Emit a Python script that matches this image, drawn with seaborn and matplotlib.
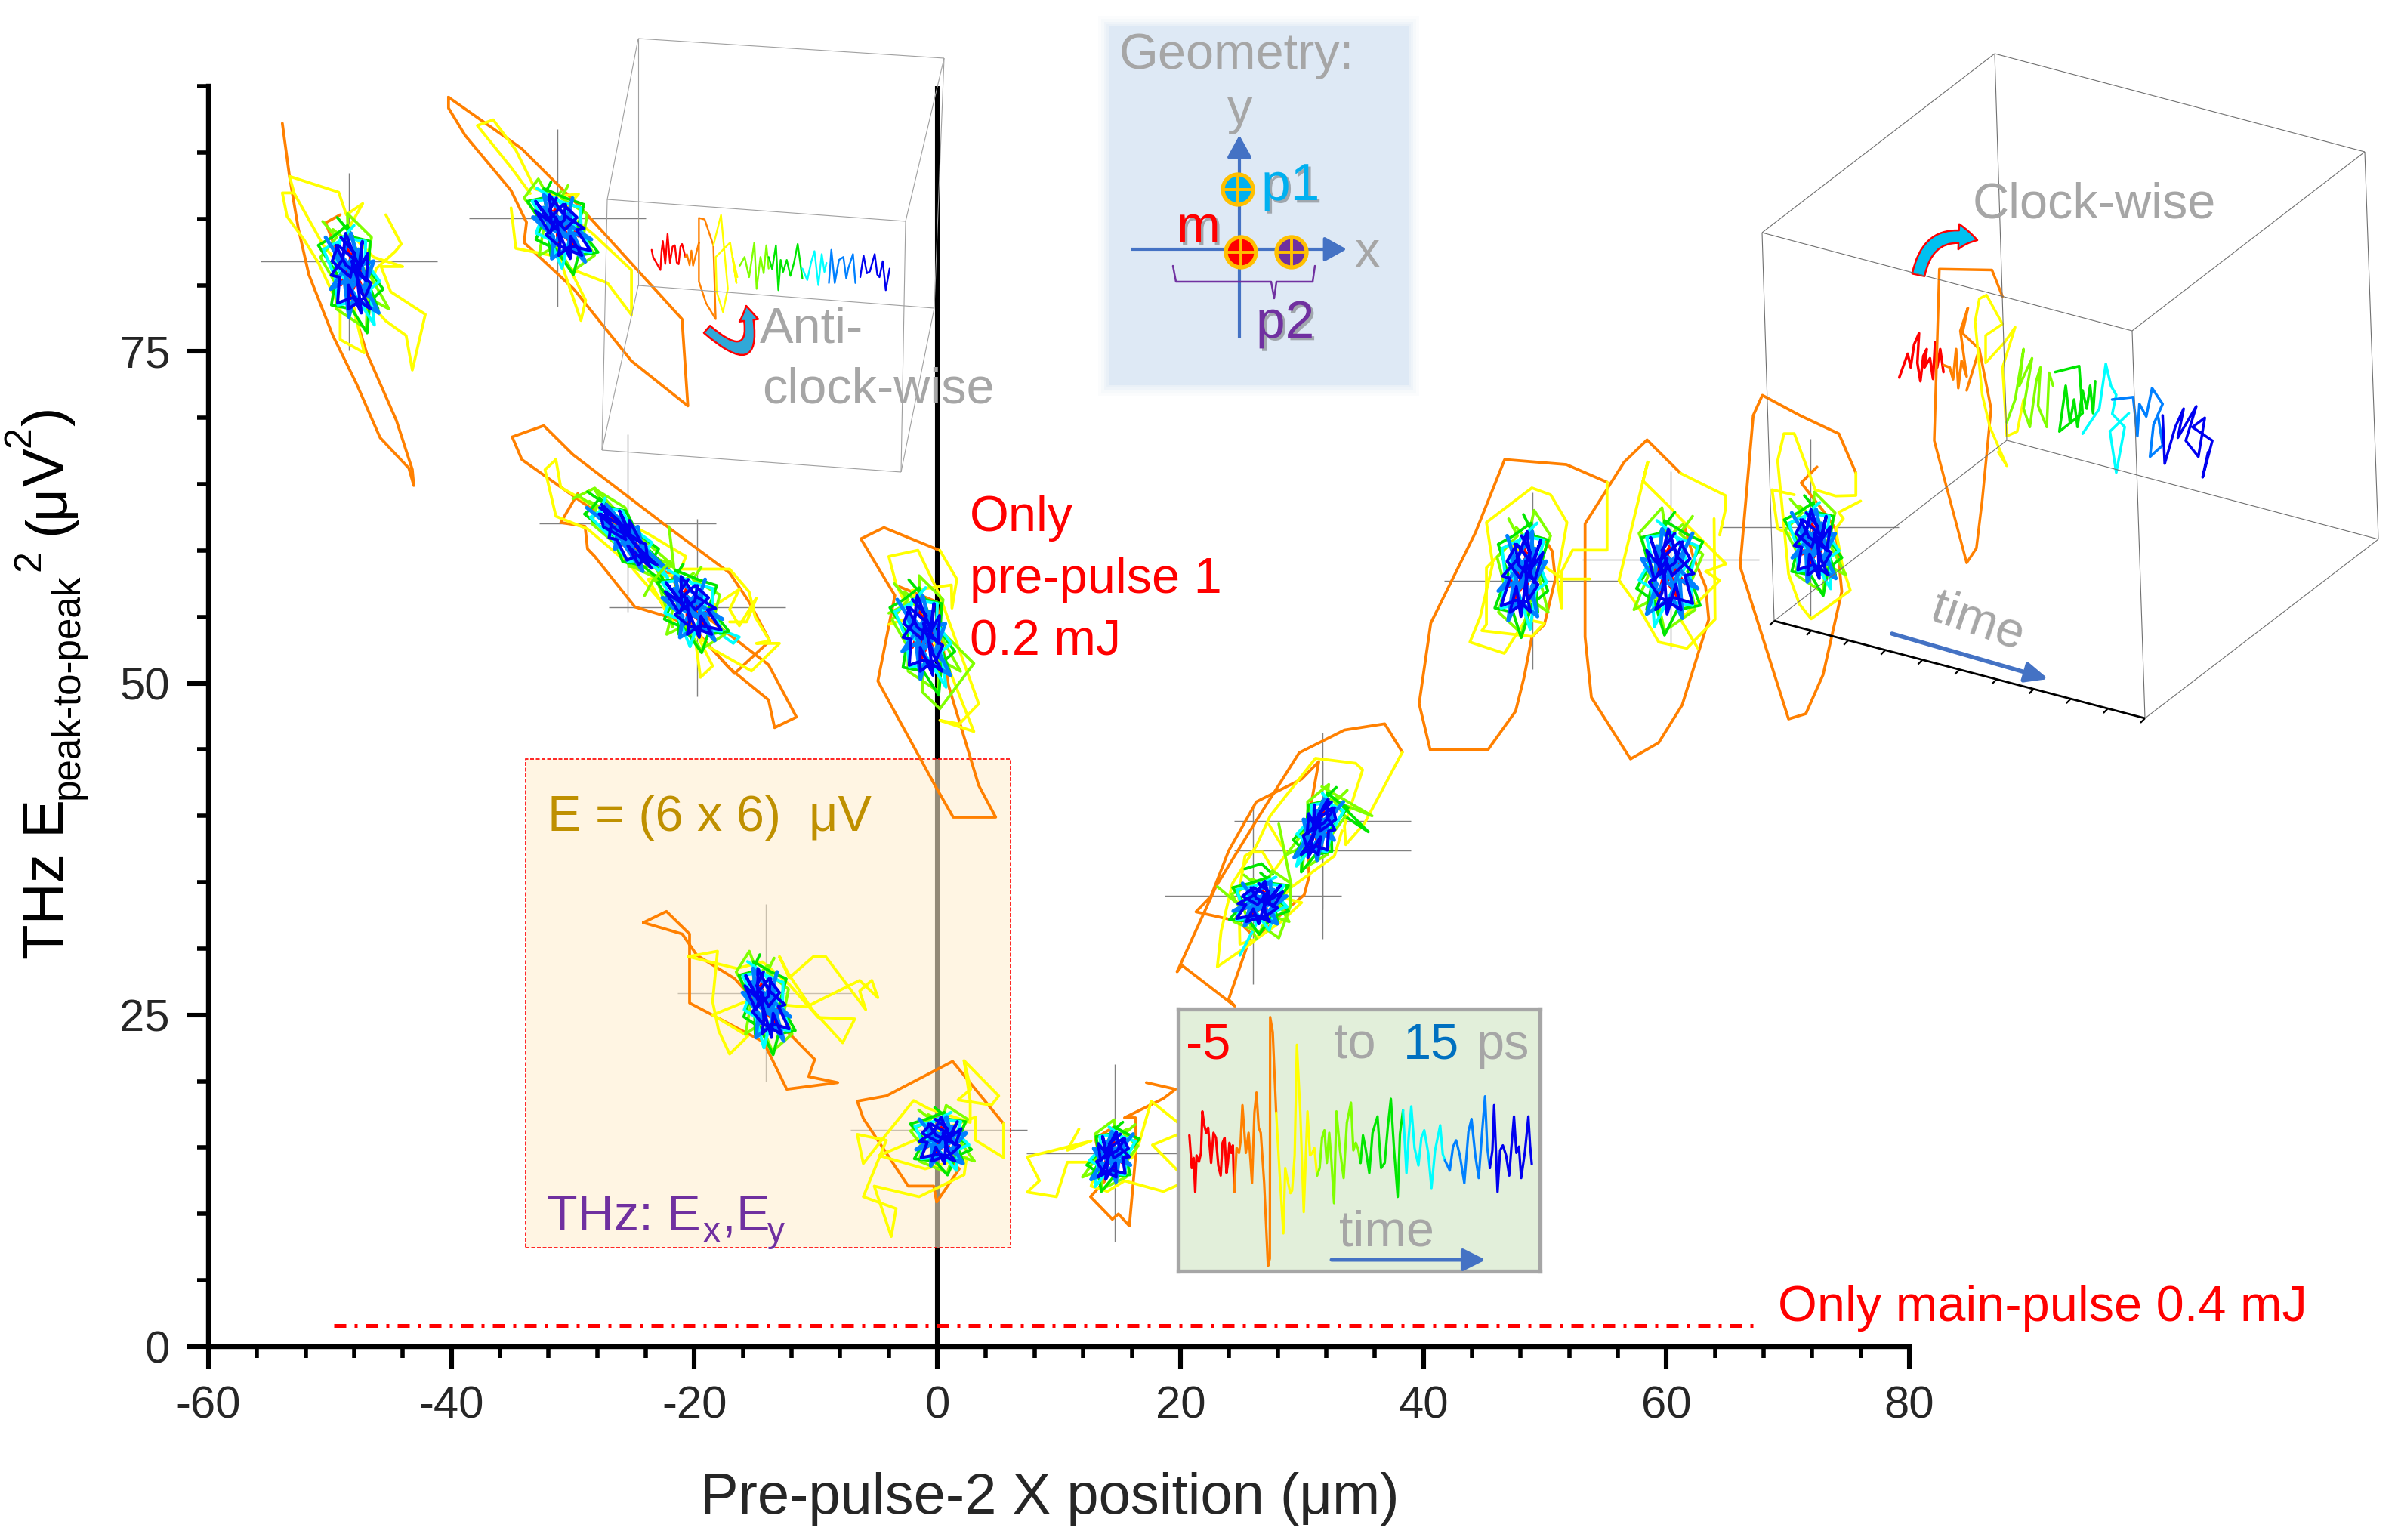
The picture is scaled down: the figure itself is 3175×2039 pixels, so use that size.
'''
THz polarisation trajectories against pre-pulse-2 X position.
Values are read off the reference picture by eye.
'''
import matplotlib
matplotlib.use('Agg')
import matplotlib.pyplot as plt
import matplotlib.patheffects as pe
from matplotlib.patches import Rectangle, Circle, FancyArrowPatch
from matplotlib.ticker import MultipleLocator
import seaborn as sns

W, H = 3175, 2039

# colours of the time segments
RED, ORANGE, YELLOW, LIME, GREEN, CYAN, AZURE, BLUE = (
    '#FF0000', '#FF8000', '#FFFF00', '#80FF00', '#00E600', '#00FFFF', '#0080FF', '#0000F0')
GREY = '#A6A6A6'
PURPLE = '#7030A0'

# axis ticks
x_major = [-60, -40, -20, 0, 20, 40, 60, 80]
y_major = [0, 25, 50, 75]

# reference levels
main_only_x = [-49.7, 67.45]
main_only_y = [1.57, 1.57]

# crosshairs: centre and half widths of each measured position
cross_x = [-48.45, -31.29, -25.52, -19.8, -14.09, 0.13, 14.59, 26.0, 31.72, 31.72, 48.96, 60.37, 71.87]
cross_y = [81.77, 85.06, 62.07, 55.7, 26.66, 16.36, 14.59, 33.98, 39.6, 37.38, 57.7, 59.29, 61.74]
cross_xerr = [7.28] * 13
cross_yerr = [6.67] * 13

# outer trajectory parts, (X um, E^2)
orange_a = [(-53.92, 92.2), (-53.33, 88.2), (-52.61, 84.3), (-51.74, 80.8), (-49.76, 76.2), (-47.78, 72.5),
            (-45.87, 68.5), (-43.5, 66.2), (-43.1, 64.9), (-43.22, 66.1), (-44.53, 69.8), (-46.98, 74.9),
            (-47.78, 77.3), (-48.57, 80.4), (-50.35, 84.7), (-49.16, 85.3)]
yellow_a = [(-53.01, 86.95), (-53.92, 86.95), (-53.53, 85.17), (-52.14, 83.43), (-50.95, 81.68), (-49.16, 78.2),
            (-49.16, 75.9), (-47.18, 74.9), (-47.98, 78.0), (-48.57, 80.8), (-50.55, 83.0), (-52.93, 86.9),
            (-53.33, 88.2), (-49.28, 87.0), (-48.65, 85.3), (-47.3, 86.15), (-48.57, 84.1), (-46.39, 82.1),
            (-44.01, 81.4), (-45.79, 81.4), (-45.0, 79.5), (-42.15, 77.8), (-43.22, 73.6), (-43.73, 76.2),
            (-45.4, 77.3), (-46.98, 78.9), (-46.19, 81.25), (-44.61, 82.55), (-44.13, 83.1), (-45.4, 85.3)]
orange_b = [(-40.24, 94.16), (-34.22, 90.29), (-29.34, 85.82), (-21.02, 77.44), (-20.54, 70.9), (-25.18, 74.28),
            (-29.94, 79.72), (-34.02, 83.21), (-33.82, 84.73), (-35.09, 87.13), (-38.86, 91.27), (-40.24, 93.34),
            (-40.24, 94.16)]
yellow_b = [(-35.09, 85.82), (-34.7, 82.77), (-31.13, 82.12), (-29.34, 77.33), (-28.95, 78.85), (-30.26, 81.25),
            (-27.16, 80.16), (-25.18, 77.76), (-25.18, 81.14), (-28.35, 83.86), (-30.73, 85.6), (-29.54, 86.87),
            (-31.13, 86.7), (-33.11, 87.24), (-34.7, 90.18), (-36.56, 92.46), (-37.87, 92.03), (-35.09, 88.87),
            (-33.51, 86.91)]
orange_c = [(-29.6, 64.29), (-31.0, 62.11), (-29.0, 61.82), (-28.8, 60.12), (-28.2, 59.55), (-24.9, 55.75),
            (-21.8, 54.9), (-20.0, 54.05), (-16.7, 50.73), (-13.8, 53.19), (-15.5, 56.13), (-17.1, 58.31),
            (-22.4, 61.92), (-30.0, 67.23), (-32.4, 69.41), (-35.0, 68.56), (-34.2, 66.85), (-26.0, 61.54),
            (-23.9, 58.88), (-22.1, 58.3)]
yellow_c = [(-31.4, 66.85), (-32.3, 66.09), (-31.4, 62.58), (-28.8, 61.63), (-25.4, 58.98), (-22.9, 56.32),
            (-21.8, 54.62), (-23.8, 57.84), (-21.3, 58.22), (-20.7, 59.55), (-23.8, 61.25), (-29.0, 63.72),
            (-31.0, 64.76), (-31.4, 66.85)]
orange_d = [(-22.1, 58.6), (-20.0, 54.05), (-17.2, 51.2), (-13.9, 48.74), (-13.4, 46.65), (-11.6, 47.45),
            (-13.9, 51.39), (-16.6, 53.29), (-19.0, 55.0)]
yellow_d = [(-21.0, 58.6), (-17.1, 58.6), (-15.5, 56.89), (-15.0, 54.99), (-13.8, 53.19), (-14.9, 53.0),
            (-13.0, 53.0), (-15.3, 50.92), (-18.8, 52.72), (-19.9, 53.86), (-18.5, 51.3), (-19.5, 50.44),
            (-19.9, 53.1), (-21.0, 54.62), (-19.3, 55.56), (-18.2, 55.94), (-16.3, 57.08), (-17.1, 55.56),
            (-16.3, 54.33), (-14.9, 56.42), (-15.7, 54.62), (-17.1, 54.62)]
orange_e = [(0.15, 60.02), (-4.4, 61.73), (-6.3, 60.88), (-3.5, 56.61), (-4.9, 50.16), (-0.2, 42.3), (1.3, 39.9),
            (4.8, 39.9), (3.4, 42.3), (0.9, 49.87), (-0.05, 56.13), (-3.4, 57.37)]
yellow_e = [(-4.0, 54.43), (-2.1, 54.99), (-3.4, 57.46), (-4.0, 59.55), (-1.6, 60.02), (0.15, 56.7), (3.4, 48.45),
            (1.8, 46.93), (0.2, 47.2), (3.0, 46.36), (0.9, 51.2), (-0.2, 53.0), (-2.1, 56.99), (1.15, 57.4),
            (1.2, 55.66), (1.6, 57.84), (0.2, 60.02)]
orange_f = [(-24.2, 31.96), (-22.3, 32.8), (-20.4, 31.1), (-20.4, 25.9), (-14.3, 22.96), (-12.4, 19.4), (-8.2, 19.9),
            (-10.6, 20.35), (-10.1, 21.65), (-12.2, 23.6), (-14.1, 25.1), (-16.7, 27.75), (-19.8, 29.5),
            (-21.0, 31.1), (-24.2, 31.96)]
yellow_f = [(-20.5, 29.4), (-16.5, 28.5), (-14.4, 29.0), (-12.2, 27.3), (-9.8, 24.8), (-6.8, 24.7), (-7.8, 22.9),
            (-10.3, 25.4), (-12.2, 28.0), (-13.0, 29.4), (-12.2, 27.8), (-10.2, 29.4), (-9.2, 29.4), (-5.9, 25.4),
            (-6.4, 26.8), (-5.4, 27.6), (-4.9, 26.3), (-6.4, 27.6), (-10.8, 25.6), (-15.8, 26.0), (-18.5, 25.0),
            (-15.6, 23.4), (-17.1, 22.05), (-18.0, 23.8), (-18.5, 26.0), (-18.1, 29.8), (-20.5, 29.4)]
orange_g = [(5.45, 16.8), (1.25, 21.5), (-4.2, 18.9), (-6.6, 18.5), (-6.1, 17.2), (-2.4, 12.1), (-0.3, 12.1),
            (-0.06, 10.9), (1.8, 13.4), (0.5, 14.5)]
yellow_g = [(2.2, 21.55), (2.75, 19.4), (1.7, 18.6), (4.45, 18.2), (5.05, 18.9), (2.2, 21.55), (2.7, 18.5),
            (2.7, 16.9), (-0.75, 17.95), (-1.96, 18.55), (-4.6, 15.55), (-6.1, 13.8), (-6.6, 16.0), (-4.2, 15.55),
            (-6.1, 11.3), (-3.4, 10.4), (-3.8, 8.3), (-5.2, 12.1), (-1.5, 11.3), (2.2, 12.95), (2.4, 14.25),
            (-1.0, 13.4), (-4.8, 14.4), (-1.25, 15.8), (3.15, 17.3), (3.15, 15.55), (5.45, 14.25), (5.45, 16.8)]
orange_h = [(17.2, 19.9), (19.6, 19.4), (18.6, 18.7), (15.4, 17.25), (16.3, 17.25), (16.3, 14.2), (15.8, 9.1),
            (14.9, 10.0), (14.4, 9.6), (12.6, 11.3), (13.8, 12.5), (13.0, 15.7), (14.6, 16.6)]
yellow_h = [(11.65, 16.4), (10.7, 14.8), (12.65, 15.5), (7.4, 14.3), (8.4, 12.5), (7.4, 11.65), (9.8, 11.3),
            (10.7, 13.9), (13.2, 13.9), (12.65, 12.1), (14.0, 11.7), (15.4, 12.5), (18.6, 11.7), (20.6, 12.5),
            (17.7, 15.2), (20.6, 16.3), (17.6, 18.5), (16.6, 15.35), (16.0, 14.2)]
orange_i = [(38.27, 44.8), (36.82, 46.94), (33.5, 46.47), (29.78, 44.76), (26.25, 39.64), (22.94, 34.7),
            (19.73, 28.25), (20.14, 28.73), (24.49, 25.66), (23.97, 26.17), (25.84, 31.1), (24.8, 32.05),
            (21.28, 32.77), (22.52, 33.95), (23.97, 37.36), (26.25, 41.06), (29.98, 42.77), (31.39, 44.09),
            (30.4, 39.07), (30.6, 35.46), (30.19, 34.04), (28.53, 32.8), (27.29, 31.67), (26.46, 31.1)]
yellow_i = [(38.27, 44.8), (35.16, 39.45), (33.61, 37.83), (33.5, 39.26), (35.0, 43.47), (34.44, 43.96),
            (31.12, 44.34), (27.39, 40.0), (26.25, 37.74), (24.28, 34.9), (23.35, 31.3), (23.04, 28.63),
            (26.05, 30.53), (28.95, 34.5), (32.68, 36.98), (33.3, 38.88)]
yellow_j = [(27.29, 39.35), (28.74, 37.17), (27.7, 35.84), (26.77, 37.27), (25.84, 37.27), (25.32, 36.98),
            (24.8, 34.13), (24.9, 30.34), (26.25, 30.72), (28.32, 32.05), (29.98, 33.47), (28.74, 33.76)]
orange_k = [(55.12, 65.15), (51.77, 66.48), (46.69, 66.86), (44.29, 61.36), (40.61, 54.53), (39.65, 48.46),
            (40.56, 44.99), (45.32, 44.99), (47.59, 47.89), (48.29, 50.45), (48.93, 53.49), (49.96, 54.43),
            (50.86, 57.85), (50.61, 59.94), (49.96, 60.9)]
yellow_k = [(55.12, 65.15), (55.12, 60.03), (52.28, 60.03), (51.38, 58.42), (51.38, 55.67), (51.0, 57.85),
            (51.82, 62.12), (50.48, 64.2), (48.93, 64.72), (45.19, 62.12), (45.71, 58.99), (44.68, 55.0),
            (43.83, 53.1), (46.66, 52.25), (48.42, 54.8), (49.96, 54.53), (48.93, 53.52), (44.81, 53.96),
            (45.19, 54.43), (45.19, 58.7), (47.13, 60.5), (48.67, 59.56), (51.51, 57.85), (53.7, 57.85)]
orange_l = [(61.17, 65.82), (58.41, 68.34), (56.53, 66.67), (53.31, 62.02), (53.31, 53.49), (53.83, 48.93),
            (57.05, 44.29), (59.37, 45.52), (61.3, 48.36), (63.49, 54.81), (63.23, 57.28), (62.2, 59.56),
            (61.43, 62.02)]
yellow_l = [(64.39, 61.17), (64.86, 63.07), (64.86, 64.15), (61.17, 65.82)]
yellow_l2 = [(63.93, 62.4), (64.01, 54.81), (61.69, 52.63), (59.37, 53.1), (57.69, 55.76), (56.1, 57.75),
             (58.08, 65.25), (58.47, 66.67), (58.08, 65.25), (60.4, 63.16), (61.17, 62.4), (64.91, 58.99),
             (63.23, 58.42), (64.39, 57.75), (61.17, 54.81), (62.59, 52.63)]
orange_m = [(75.6, 65.85), (74.2, 68.8), (71.0, 70.18), (67.9, 71.7), (67.15, 70.18), (66.07, 58.8), (70.06, 47.3),
            (71.48, 47.7), (72.9, 50.64), (74.44, 56.9), (73.93, 61.64), (72.9, 63.0), (71.1, 65.1), (72.4, 66.3)]
yellow_m = [(75.6, 65.85), (75.6, 64.15), (73.93, 64.11), (72.25, 64.58), (70.53, 68.81), (69.68, 68.81),
            (69.16, 66.77), (70.06, 58.23), (70.96, 55.95), (71.92, 54.85), (75.14, 57.0), (74.5, 58.8),
            (73.93, 61.64), (74.57, 62.4), (74.19, 62.88), (75.99, 63.73)]
yellow_m2 = [(72.25, 60.6), (70.58, 61.07), (69.16, 61.64), (68.7, 64.58), (70.53, 64.2)]

# larger excursions of the middle of the pulse
lime_c = [(-30.0, 63.91), (-28.2, 64.71), (-26.6, 63.15)]
lime_c2 = [(-25.4, 58.8), (-21.7, 58.8), (-22.1, 61.8)]
lime_d = [(-24.1, 56.61), (-23.2, 58.13), (-21.8, 54.24)]
cyan_d = [(-17.9, 54.05), (-16.3, 53.48), (-16.8, 53.0), (-18.9, 54.4)]
lime_e = [(-4.0, 55.28), (-2.1, 56.13), (3.0, 51.49), (0.2, 48.07), (-1.2, 49.3), (-1.2, 51.39)]
lime_i = [(23.04, 34.67), (25.2, 33.0), (26.25, 30.7)]
lime_i2 = [(28.1, 39.4), (29.05, 35.1), (29.05, 33.2), (28.1, 30.8), (26.7, 31.7)]
lime_j = [(31.64, 42.2), (35.78, 40.0), (32.26, 41.25)]
green_i = [(25.3, 36.0), (26.67, 36.4), (27.6, 35.6)]
green_j = [(32.68, 41.34), (35.47, 38.8), (33.5, 40.0)]
cyan_i = [(24.9, 29.5), (26.25, 31.86), (25.6, 32.8)]

outer_orange = [orange_a, orange_b, orange_c, orange_d, orange_e, orange_f, orange_g, orange_h,
                orange_i, orange_k, orange_l, orange_m]
outer_yellow = [yellow_a, yellow_b, yellow_c, yellow_d, yellow_e, yellow_f, yellow_g, yellow_h,
                yellow_i, yellow_j, yellow_k, yellow_l, yellow_l2, yellow_m, yellow_m2]
excursions = [(LIME, lime_c), (LIME, lime_c2), (LIME, lime_d), (CYAN, cyan_d), (LIME, lime_e), (LIME, lime_i),
              (LIME, lime_i2), (LIME, lime_j), (GREEN, green_i), (GREEN, green_j), (CYAN, cyan_i)]

# tangled core of the trace, in units of the core half size
core_red = [(-.6, -.3), (.2, .5), (-.3, -.6), (.5, .1), (-.5, .3), (.4, -.5), (0, .6), (.6, -.2)]
core_lime = [(-.9, 1.3), (-.4, .9), (-1.3, .4), (-.8, -.3), (-1.0, -.9), (.2, -1.4), (.5, -.6), (1.4, -.9),
             (.7, .1), (1.2, .9), (.3, 1.5), (.1, .8), (-.5, 1.1)]
core_green = [(-.2, 1.4), (.4, .9), (1.1, .8), (.8, .1), (1.3, -.4), (.6, -.7), (.2, -1.5), (-.3, -.9),
              (-1.2, -.8), (-.7, 0), (-1.3, .7), (-.6, .9), (.2, 1.2), (.9, -.9)]
core_cyan = [(.5, 1.2), (-.3, .8), (-1.1, .6), (-.8, -.1), (-.9, -.8), (.1, -.7), (.6, -1.3), (.7, -.4),
             (1.2, -.2), (.7, .3), (.9, .8), (-.2, .9), (-.7, .2), (.3, -.9)]
core_azure = [(-.9, .9), (-.4, .3), (.3, 1.0), (.4, .2), (1.1, .3), (.5, -.3), (.9, -1.0), (-.1, -.6),
              (-.5, -1.1), (-.4, -.2), (-1.1, -.4), (-.3, .1), (.5, .6), (.6, -.6), (-.6, .5), (.1, -.9),
              (-.4, .1), (.3, .3), (-.2, -.4), (.4, -.1), (-.3, .4), (.2, -.3)]
core_blue = [(-.2, .9), (.3, .5), (-.1, -.1), (-.8, .3), (-.4, .7), (.5, .2), (.9, .5), (.6, -.2), (.1, .3),
             (.3, -.5), (.55, -.9), (-.1, -.6), (-.9, -.75), (-.6, -.1), (-.95, -.05), (-.3, .35), (.05, 1.0),
             (.4, .1), (.75, .8), (.2, -.15), (.1, -1.0), (-.25, -.3), (-.45, -.9), (.4, -.6), (.8, -.25),
             (-.2, .2), (-.5, .7)]

# core centre, half sizes and tilt for every position
core_x = [-48.2, -30.93, -25.7, -20.2, -1.15, -14.1, 0.3, 14.4, 26.56, 31.43, 48.16, 60.27, 72.12]
core_y = [80.9, 84.4, 61.07, 55.75, 53.6, 25.9, 15.56, 14.4, 33.47, 39.07, 58.23, 58.42, 60.5]
core_rx = [1.8, -1.9, 1.5, -2.0, 1.8, -1.6, 1.9, -1.5, 1.9, -1.4, 1.7, -2.1, 1.7]
core_ry = [3.0, 2.4, 2.4, 2.3, 3.0, 2.6, 1.75, 1.8, 1.6, 2.2, 3.2, 3.2, 2.6]
core_tilt = [-.6, -.9, -2.0, -.8, -.6, -.6, -.1, .4, .3, .8, .3, 0, -.3]

# time trace seen from the side, left box (anti-clock-wise)
side_l_red = [(-23.52, 82.66), (-23.4, 82.12), (-22.8, 81.14), (-22.7, 82.6), (-22.6, 83.32), (-22.4, 81.6),
              (-22.21, 83.86), (-22.01, 81.68), (-21.8, 82.9), (-21.61, 83.0), (-21.45, 81.7), (-21.3, 81.58),
              (-21.15, 82.9), (-21.02, 83.1), (-20.74, 82.12)]
side_l_orange = [(-20.74, 82.12), (-20.62, 82.34), (-20.4, 81.5), (-20.25, 82.6), (-20.11, 81.47), (-19.63, 83.21),
                 (-19.63, 85.06), (-19.16, 84.95), (-18.44, 83.0), (-18.25, 77.44), (-19.04, 78.64), (-19.63, 80.27),
                 (-19.63, 83.21)]
side_l_yellow = [(-18.44, 83.0), (-17.81, 85.28), (-17.25, 79.72), (-17.65, 77.98), (-18.17, 79.5), (-18.25, 82.12),
                 (-17.06, 83.21), (-16.54, 80.16), (-16.86, 82.12), (-16.46, 80.6)]
side_l_lime = [(-16.26, 81.47), (-15.87, 82.12), (-15.5, 80.6), (-15.07, 83.21), (-14.88, 79.72), (-14.56, 82.12),
               (-14.3, 80.9), (-14.08, 83.0), (-13.89, 81.25)]
side_l_green = [(-13.89, 82.12), (-13.6, 81.2), (-13.29, 83.0), (-13.09, 79.62), (-12.9, 81.9), (-12.7, 81.0),
                (-12.4, 81.9), (-12.1, 80.7), (-11.8, 81.7), (-11.5, 83.1), (-11.11, 80.49)]
side_l_cyan = [(-11.11, 81.25), (-10.71, 80.38), (-10.4, 81.7), (-10.12, 82.56), (-9.8, 80.0), (-9.52, 82.34),
               (-9.3, 81.0), (-9.13, 81.68)]
side_l_azure = [(-8.93, 80.16), (-8.73, 82.66), (-8.45, 80.16), (-8.1, 81.9), (-7.74, 82.12), (-7.5, 80.5),
                (-7.34, 81.25), (-6.95, 82.34), (-6.75, 80.16)]
side_l_blue = [(-6.35, 80.6), (-6.08, 82.23), (-5.8, 80.9), (-5.56, 81.03), (-5.16, 82.34), (-4.95, 80.8),
               (-4.77, 80.6), (-4.5, 81.8), (-4.25, 79.62), (-3.93, 81.25)]

# right box (clock-wise)
side_r_red = [(79.17, 73.04), (79.87, 74.83), (80.11, 73.8), (80.39, 75.52), (80.8, 76.38), (80.66, 74.14),
              (80.91, 72.76), (81.15, 74.66), (81.43, 75.18), (81.25, 73.8), (81.7, 74.49), (81.95, 72.93),
              (82.12, 75.69), (82.29, 73.8), (82.54, 75.18), (82.81, 73.45)]
side_r_orange = [(82.81, 73.97), (83.33, 73.8), (83.6, 72.9), (83.85, 75.18), (84.03, 72.24), (84.3, 74.3),
                 (84.72, 73.11), (84.2, 76.56), (84.82, 78.28), (84.37, 76.38), (85.76, 75.18), (84.72, 72.07)]
side_r_loop = [(87.67, 79.14), (86.8, 81.14), (82.47, 81.21), (82.05, 68.28), (84.72, 59.07), (85.52, 60.17),
               (86.0, 63.8), (86.73, 70.69), (85.76, 75.18)]
side_r_yellow = [(87.32, 67.42), (88.02, 66.38), (86.63, 69.31), (86.0, 71.73), (85.41, 77.25), (85.76, 78.97),
                 (86.35, 79.25), (87.67, 77.07), (86.28, 76.21), (86.28, 74.14), (87.84, 75.69), (88.71, 76.83),
                 (87.67, 73.8), (88.02, 68.62), (88.88, 68.97), (89.4, 71.38)]
side_r_lime = [(88.02, 69.66), (88.71, 71.38), (89.4, 75.18), (89.05, 72.4), (90.1, 74.49), (89.4, 70.69),
               (89.92, 69.31), (90.45, 72.8), (90.79, 73.8), (90.6, 70.9), (91.31, 69.31), (91.5, 73.4), (91.83, 72.42)]
side_r_green = [(92.0, 73.45), (93.98, 73.9), (94.26, 70.35), (92.35, 68.97), (92.87, 72.42), (93.22, 69.66),
                (93.56, 71.38), (93.84, 69.31), (94.26, 72.07), (94.6, 70.69), (94.88, 72.42), (95.12, 70.35),
                (95.3, 72.76)]
side_r_cyan = [(94.26, 68.8), (95.64, 70.69), (96.17, 74.07), (96.6, 72.4), (97.03, 71.73), (96.7, 70.3),
               (97.73, 69.31), (97.03, 65.87), (96.51, 68.97), (98.07, 70.35)]
side_r_azure = [(96.69, 71.38), (98.42, 71.56), (98.77, 68.62), (98.94, 71.04), (99.5, 70.1), (99.98, 72.24),
                (100.85, 71.04), (100.1, 69.5), (99.81, 67.07), (100.85, 67.93), (100.5, 70.0)]
side_r_blue = [(100.85, 70.18), (101.02, 66.55), (101.89, 69.31), (102.58, 70.69), (102.1, 68.5), (103.62, 70.87),
               (102.75, 68.28), (103.79, 67.07), (104.32, 70.0), (103.3, 69.3), (104.94, 68.28), (104.14, 65.52),
               (104.59, 67.42)]
side_left = [(RED, side_l_red), (ORANGE, side_l_orange), (YELLOW, side_l_yellow), (LIME, side_l_lime),
             (GREEN, side_l_green), (CYAN, side_l_cyan), (AZURE, side_l_azure), (BLUE, side_l_blue)]
side_right = [(RED, side_r_red), (ORANGE, side_r_orange), (ORANGE, side_r_loop), (YELLOW, side_r_yellow),
              (LIME, side_r_lime), (GREEN, side_r_green), (CYAN, side_r_cyan), (AZURE, side_r_azure),
              (BLUE, side_r_blue)]

# inset waveform, (time ps, field)
wave_red = [(-5, .6), (-4.86, -2), (-4.75, -1.2), (-4.66, -3.9), (-4.58, -1), (-4.44, -1.5), (-4.32, -.8),
            (-4.24, 2.5), (-4.13, 1.4), (-4.01, .8), (-3.9, 1.2), (-3.73, -1.6), (-3.59, .8), (-3.45, .4),
            (-3.31, -1.8), (-3.17, -2.6), (-3.06, 0), (-2.94, .4), (-2.83, -2.4), (-2.75, -1.6), (-2.66, 0),
            (-2.55, -.8), (-2.46, -.2), (-2.38, -3.9)]
wave_orange = [(-2.38, -3.9), (-2.24, -.4), (-2.1, -.8), (-2.0, .2), (-1.9, 3), (-1.7, -.8), (-1.54, .8),
               (-1.34, -3.2), (-1.2, 2.4), (-1.08, 4), (-.95, 1.2), (-.83, .8), (-.63, -3.2), (-.41, -9.8),
               (-.3, -9.2), (-.28, 10), (-.13, 8.8), (.07, 2.4)]
wave_yellow = [(.07, 2.4), (.27, -2.4), (.49, -7.2), (.6, -2), (.77, -3.2), (.9, -4), (1, -3.8), (1.15, -1),
               (1.28, 7.8), (1.48, 2.4), (1.68, -5.5), (1.9, 2.5), (2.05, -1), (2.18, -.8), (2.3, -.4), (2.46, -2.6)]
wave_lime = [(2.46, -2.6), (2.61, -2), (2.75, .4), (2.89, 1), (3.03, -1.6), (3.17, .8), (3.3, -1.5), (3.45, -4.8),
             (3.59, 2.5), (3.8, -.6), (4.01, -2.8), (4.2, 1.6), (4.44, 3.2), (4.58, -.6), (4.72, 0), (4.86, -.5),
             (5, -1.6)]
wave_green = [(5, -1.6), (5.14, .6), (5.3, -.5), (5.51, -2.4), (5.7, .8), (5.99, 2.1), (6.2, -2), (6.41, -1.6),
              (6.6, 1.4), (6.77, 3.5), (6.95, -.4), (7.17, -4.3), (7.3, .7), (7.48, 2.6)]
wave_cyan = [(7.48, 2.6), (7.68, -2.4), (7.8, .3), (7.96, 2.9), (8.15, -.4), (8.38, -1.8), (8.55, .4), (8.72, 1),
             (8.95, -.8), (9.14, -3.6), (9.35, -.6), (9.65, 1.4), (9.8, -.9), (9.93, -1.4)]
wave_azure = [(9.93, -1.4), (10.21, -2.2), (10.4, -.3), (10.58, .2), (10.8, -1), (11.06, -3.2), (11.3, .9),
              (11.48, 1.9), (11.7, -1), (11.9, -2.8), (12.1, .9), (12.27, 3.7), (12.4, -.4), (12.55, -2)]
wave_blue = [(12.55, -2), (12.7, -.6), (12.8, 3), (13, -3.9), (13.15, -.6), (13.31, -.2), (13.5, -1), (13.68, -2.6),
             (13.8, -.5), (13.96, 2.1), (14.1, -.8), (14.25, -.3), (14.38, -2.8), (14.6, -.7), (14.8, 2.1),
             (14.9, -.2), (15, -1.7)]
wave_parts = [(RED, wave_red), (ORANGE, wave_orange), (YELLOW, wave_yellow), (LIME, wave_lime), (GREEN, wave_green),
              (CYAN, wave_cyan), (AZURE, wave_azure), (BLUE, wave_blue)]


def trace(ax, pts, color, lw=1.3, z=4):
    x, y = zip(*pts)
    sns.lineplot(x=list(x), y=list(y), sort=False, estimator=None, errorbar=None, color=color,
                 linewidth=lw, ax=ax, clip_on=False, zorder=z, legend=False)


def txt(x, y, s, color='black', size=24, **kw):
    # pixel position in the picture, y from the top
    kw.setdefault('ha', 'left')
    kw.setdefault('va', 'baseline')
    return fig.text(x / W, 1 - y / H, s, color=color, fontsize=size, zorder=20, **kw)


def vtxt(x, y, s, size=27.5):
    return txt(x, y, s, size=size, rotation=90, rotation_mode='anchor')


sns.set_style('ticks')
plt.rcParams['font.family'] = ['Liberation Sans', 'DejaVu Sans']
plt.rcParams['axes.unicode_minus'] = False

fig = plt.figure(figsize=(W / 200, H / 200), dpi=200)
ax = fig.add_axes([276 / W, 1 - 1783 / H, (2528 - 276) / W, (1783 - 114) / H], zorder=1)

# measured positions, zero line, shaded E box
ax.errorbar(cross_x, cross_y, xerr=cross_xerr, yerr=cross_yerr, fmt='none', ecolor='#808080',
            elinewidth=0.5, capsize=0, zorder=1)
ax.axvline(0, color='black', lw=2.2, zorder=2)
ax.add_patch(Rectangle((-33.9, 7.45), 39.9, 36.85, facecolor=(1, 0.933, 0.81, 0.58), edgecolor='none', zorder=3))
ax.add_patch(Rectangle((-33.9, 7.45), 39.9, 36.85, fill=False, edgecolor='red', ls=(0, (3, 1.5)), lw=0.6, zorder=3))
sns.lineplot(x=main_only_x, y=main_only_y, color='red', linewidth=1.8, linestyle=(0, (3.2, 2.2, .8, 2.2)),
             sort=False, estimator=None, errorbar=None, ax=ax, zorder=3, legend=False)

for pts in outer_orange:
    trace(ax, pts, ORANGE, 1.35)
for pts in outer_yellow:
    trace(ax, pts, YELLOW, 1.35)
for col, pts in excursions:
    trace(ax, pts, col, 1.35, z=5)

core_parts = [(RED, core_red, 1.3), (LIME, core_lime, 1.35), (GREEN, core_green, 1.35), (CYAN, core_cyan, 1.45),
              (AZURE, core_azure, 1.8), (BLUE, core_blue, 1.45)]
for cx, cy, rx, ry, tilt in zip(core_x, core_y, core_rx, core_ry, core_tilt):
    for col, part, lw in core_parts:
        trace(ax, [(cx + rx * u + tilt * v, cy + ry * v) for u, v in part], col, lw, z=6)

for col, pts in side_left:
    trace(ax, pts, col, 0.85, z=6)
for col, pts in side_right:
    trace(ax, pts, col, 1.25, z=6)

ax.set_xlim(-60, 80)
ax.set_ylim(0, 95)
ax.set_xticks(x_major)
ax.set_yticks(y_major)
ax.xaxis.set_minor_locator(MultipleLocator(4))
ax.yaxis.set_minor_locator(MultipleLocator(5))
ax.tick_params(which='major', length=10.4, width=2.2, labelsize=21.5, pad=8, color='black')
ax.tick_params(which='minor', length=5.4, width=2.0, color='black')
sns.despine(ax=ax)
for side in ('left', 'bottom'):
    ax.spines[side].set_linewidth(2.3)
    ax.spines[side].set_color('black')
ax.set_xlabel('Pre-pulse-2 X position (μm)', fontsize=27.3, labelpad=21.5, x=0.4945)
ax.set_ylabel('')
ax.patch.set_alpha(0)

# y label pieces
vtxt(84, 1270, 'THz E')
vtxt(104, 1058, 'peak-to-peak', size=18.4)
vtxt(53, 756, '2', size=18)
vtxt(84, 708, '(')
vtxt(84, 685, 'μ')
vtxt(84, 644, 'V')
vtxt(40, 592, '2', size=18)
vtxt(84, 564, ')')

# drawing layer in picture pixels: boxes, geometry sketch, arrows
deco = fig.add_axes([0, 0, 1, 1], zorder=8)
deco.set_xlim(0, W)
deco.set_ylim(H, 0)
deco.axis('off')


def seg(a, b, color='#808080', lw=0.4):
    deco.plot([a[0], b[0]], [a[1], b[1]], color=color, lw=lw, solid_capstyle='butt')


def box3d(front, back, color):
    for i in range(4):
        seg(front[i], front[(i + 1) % 4], color)
        seg(back[i], back[(i + 1) % 4], color)
        seg(front[i], back[i], color)


box3d([(804, 264), (1199, 293), (1193, 625), (797, 596)], [(845, 51), (1250, 77), (1237, 408), (845, 378)], '#A0A0A0')
box3d([(2333, 308), (2823, 438), (2840, 951), (2349, 822)], [(2641, 71), (3131, 201), (3149, 714), (2657, 583)],
      '#707070')
seg((2349, 822), (2840, 951), 'black', 1.0)
for i in range(11):
    tx = 2349 + (2840 - 2349) * i / 10
    ty = 822 + (951 - 822) * i / 10
    seg((tx, ty), (tx - 6, ty + 6), 'black', 0.8)

deco.add_patch(FancyArrowPatch((2540, 364), (2618, 318), connectionstyle='arc3,rad=-0.55',
                               arrowstyle='simple,head_length=9,head_width=12,tail_width=6',
                               fc='#00C0F0', ec='red', lw=0.9, shrinkA=0, shrinkB=0))
deco.add_patch(FancyArrowPatch((936, 436), (988, 405), connectionstyle='arc3,rad=1.5',
                               arrowstyle='simple,head_length=7,head_width=9,tail_width=4.5',
                               fc='#30A8D8', ec='red', lw=0.9, shrinkA=0, shrinkB=0))
deco.annotate('', xy=(2712, 899), xytext=(2505, 839),
              arrowprops=dict(arrowstyle='-|>,head_length=.9,head_width=.4', color='#4472C4', lw=2, shrinkA=0, shrinkB=0))

# geometry panel with soft edge
for grow, a in [(14, .1), (10, .15), (6, .25), (3, .35), (0, 1)]:
    deco.add_patch(Rectangle((1468 - grow, 35 - grow), 397 + 2 * grow, 475 + 2 * grow,
                             facecolor='#DEE9F5', edgecolor='none', alpha=a))
seg((1498, 330), (1755, 330), '#4472C4', 1.5)
seg((1641, 448), (1641, 195), '#4472C4', 1.5)
deco.annotate('', xy=(1783, 330), xytext=(1750, 330),
              arrowprops=dict(arrowstyle='-|>,head_length=.9,head_width=.5', color='#4472C4', lw=1.5, shrinkA=0, shrinkB=0))
deco.annotate('', xy=(1641, 179), xytext=(1641, 210),
              arrowprops=dict(arrowstyle='-|>,head_length=.9,head_width=.5', color='#4472C4', lw=1.5, shrinkA=0, shrinkB=0))
for cx, cy, fc in [(1639, 251, '#00B0F0'), (1643, 334, '#FF0000'), (1710, 334, PURPLE)]:
    deco.add_patch(Circle((cx, cy), 20, facecolor=fc, edgecolor='#FFC000', lw=1.9, zorder=5))
    deco.plot([cx - 20, cx + 20], [cy, cy], color='#FFC000', lw=1.4, zorder=6)
    deco.plot([cx, cx], [cy - 20, cy + 20], color='#FFC000', lw=1.4, zorder=6)
deco.plot([1553, 1557, 1683, 1687, 1690, 1738, 1741], [352, 373, 373, 395, 373, 373, 352], color=PURPLE, lw=0.9)

# inset waveform
ax_w = fig.add_axes([1560 / W, 1 - 1683 / H, (2039 - 1560) / W, (1683 - 1336) / H], zorder=12)
ax_w.set_facecolor('#E2EFDA')
for col, pts in wave_parts:
    trace(ax_w, pts, col, 1.15)
ax_w.set_xlim(-5.65, 15.48)
ax_w.set_ylim(-10.2, 10.64)
ax_w.set_xticks([])
ax_w.set_yticks([])
ax_w.set_xlabel('')
ax_w.set_ylabel('')
for sp in ax_w.spines.values():
    sp.set_color(GREY)
    sp.set_linewidth(1.9)
ax_w.annotate('', xy=(1967 / W, 1 - 1668 / H), xytext=(1763 / W, 1 - 1668 / H), xycoords='figure fraction',
              textcoords='figure fraction',
              arrowprops=dict(arrowstyle='-|>,head_length=.9,head_width=.45', color='#4472C4', lw=1.8, shrinkA=0, shrinkB=0))

# texts
shadow = [pe.withSimplePatchShadow(offset=(1.2, -1.2), shadow_rgbFace='#555555', alpha=0.45)]
txt(1482, 91, 'Geometry:', GREY)
txt(1625, 164, 'y', GREY)
txt(1793, 353, 'x', GREY)
txt(1670, 265, 'p1', '#00B0F0', 25, path_effects=shadow)
txt(1558, 321, 'm', 'red', 25, path_effects=shadow)
txt(1663, 447, 'p2', PURPLE, 25, path_effects=shadow)
txt(1006, 453, 'Anti-', GREY)
txt(1009, 533, 'clock-wise', GREY)
txt(2612, 289, 'Clock-wise', GREY)
txt(2553, 820, 'time', GREY, rotation=-19, rotation_mode='anchor')
txt(1284, 703, 'Only', 'red')
txt(1284, 785, 'pre-pulse 1', 'red')
txt(1284, 867, '0.2 mJ', 'red')
txt(2354, 1749, 'Only main-pulse 0.4 mJ', 'red')
txt(725, 1100, 'E = (6 x 6)  μV', '#BF9000')
txt(724, 1629, 'THz: E', PURPLE)
txt(930, 1644, 'x', PURPLE, 16.5)
txt(955, 1629, ',', PURPLE)
txt(975, 1629, 'E', PURPLE)
txt(1016, 1644, 'y', PURPLE, 16.5)
txt(1570, 1402, '-5', 'red')
txt(1766, 1402, 'to', GREY)
txt(1858, 1402, '15', '#0070C0')
txt(1955, 1402, 'ps', GREY)
txt(1773, 1650, 'time', GREY)

fig.savefig('out.png', dpi=200, facecolor='white')
